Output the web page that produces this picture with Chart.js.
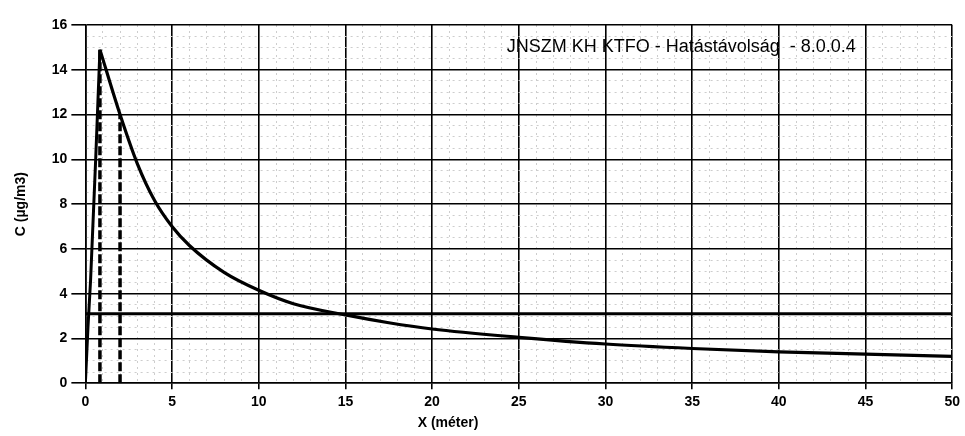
<!DOCTYPE html>
<html>
<head>
<meta charset="utf-8">
<script src="https://cdn.jsdelivr.net/npm/chart.js@4/dist/chart.umd.min.js"></script>
<style>
  html, body { margin: 0; padding: 0; background: #fff; }
  #wrap { width: 965px; height: 436px; }
</style>
</head>
<body>
<div id="wrap"><canvas id="c"></canvas></div>
<script>
// rising part, up to the peak
const riseX = [0, 0.15, 0.3, 0.6, 0.84];
const riseC = [0, 2.5, 4.6, 10.1, 14.9];
// decay after the peak
const decayX = [0.84, 2, 3, 4, 5, 6, 8, 10, 12, 15, 17.5, 20, 25, 30, 35, 40, 45, 50];
const decayC = [14.9, 12, 9.8, 8.15, 7.0, 6.15, 4.95, 4.15, 3.55, 3.05, 2.7, 2.42, 2.05, 1.75, 1.55, 1.4, 1.3, 1.2];
// limit line
const limitX = [0, 50];
const limitC = [3.1, 3.1];
// dashed verticals
const markerX = [0.84, 2];
const markerTop = [14.9, 12];

const chartTitle = 'JNSZM KH KTFO - Hatástávolság  - 8.0.0.4';
const xTitle = 'X (méter)';
const yTitle = 'C (µg/m3)';

const pts = (xs, ys) => xs.map((x, i) => ({ x: x, y: ys[i] }));

const datasets = [];
markerX.forEach((x, i) => {
  datasets.push({
    data: [{ x: x, y: 0 }, { x: x, y: markerTop[i] }],
    borderColor: '#000', borderWidth: 3.5, borderDash: [9, 3],
    pointRadius: 0, tension: 0,
  });
});
datasets.push({
  data: pts(limitX, limitC),
  borderColor: '#000', borderWidth: 3, pointRadius: 0, tension: 0,
});
datasets.push({
  data: pts(riseX, riseC),
  borderColor: '#000', borderWidth: 3, pointRadius: 0, tension: 0,
});
datasets.push({
  data: pts(decayX, decayC),
  borderColor: '#000', borderWidth: 3.2, pointRadius: 0,
  cubicInterpolationMode: 'monotone',
});

const tickFont = { family: 'Liberation Sans, Arial, sans-serif', size: 14, weight: 'bold' };

// title inside plot + x axis title
const textPlugin = {
  id: 'texts',
  afterDraw(chart) {
    const { ctx, scales } = chart;
    ctx.save();
    ctx.fillStyle = '#000';
    ctx.font = '18px Liberation Sans, Arial, sans-serif';
    ctx.textAlign = 'left';
    ctx.textBaseline = 'middle';
    ctx.fillText(chartTitle, scales.x.getPixelForValue(24.3), scales.y.getPixelForValue(15.0));
    ctx.font = 'bold 14px Liberation Sans, Arial, sans-serif';
    ctx.textAlign = 'center';
    ctx.fillText(xTitle, 448, 423);
    ctx.restore();
  }
};

new Chart(document.getElementById('c'), {
  type: 'line',
  data: { datasets: datasets },
  plugins: [textPlugin],
  options: {
    responsive: true,
    maintainAspectRatio: false,
    animation: false,
    layout: { padding: { top: 25, right: 10, bottom: 20, left: 9 } },
    plugins: { legend: { display: false }, tooltip: { enabled: false } },
    scales: {
      x: {
        type: 'linear', min: 0, max: 50,
        ticks: {
          stepSize: 1, autoSkip: false, maxRotation: 0, padding: 5,
          color: '#000', font: tickFont,
          callback: v => (v % 5 === 0 ? v : ''),
        },
        grid: {
          color: c => (c.tick && c.tick.value % 5 === 0 ? '#000' : '#cdcdcd'),
          lineWidth: c => (c.tick && c.tick.value % 5 === 0 ? 1.6 : 1),
          tickColor: c => (c.tick && c.tick.value % 5 === 0 ? '#000' : 'rgba(0,0,0,0)'),
          tickLength: 6,
        },
        border: {
          color: '#000', width: 1.6,
          dash: c => (c.tick && c.tick.value % 5 === 0 ? [] : [2, 4]),
        },
      },
      y: {
        type: 'linear', min: 0, max: 16,
        ticks: {
          stepSize: 0.5, autoSkip: false, padding: 4,
          color: '#000', font: tickFont,
          callback: v => (v % 2 === 0 ? v : ''),
        },
        grid: {
          color: c => (c.tick && c.tick.value % 2 === 0 ? '#000' : '#cdcdcd'),
          lineWidth: c => (c.tick && c.tick.value % 2 === 0 ? 1.6 : 1),
          tickColor: c => (c.tick && c.tick.value % 2 === 0 ? '#000' : 'rgba(0,0,0,0)'),
          tickLength: 14,
        },
        border: {
          color: '#000', width: 1.6,
          dash: c => (c.tick && c.tick.value % 2 === 0 ? [] : [2, 4]),
        },
        title: {
          display: true, text: yTitle, color: '#000',
          font: { family: 'Liberation Sans, Arial, sans-serif', size: 14, weight: 'bold' },
          padding: { top: 4, bottom: 18 },
        },
      },
    },
  },
});
</script>
</body>
</html>
